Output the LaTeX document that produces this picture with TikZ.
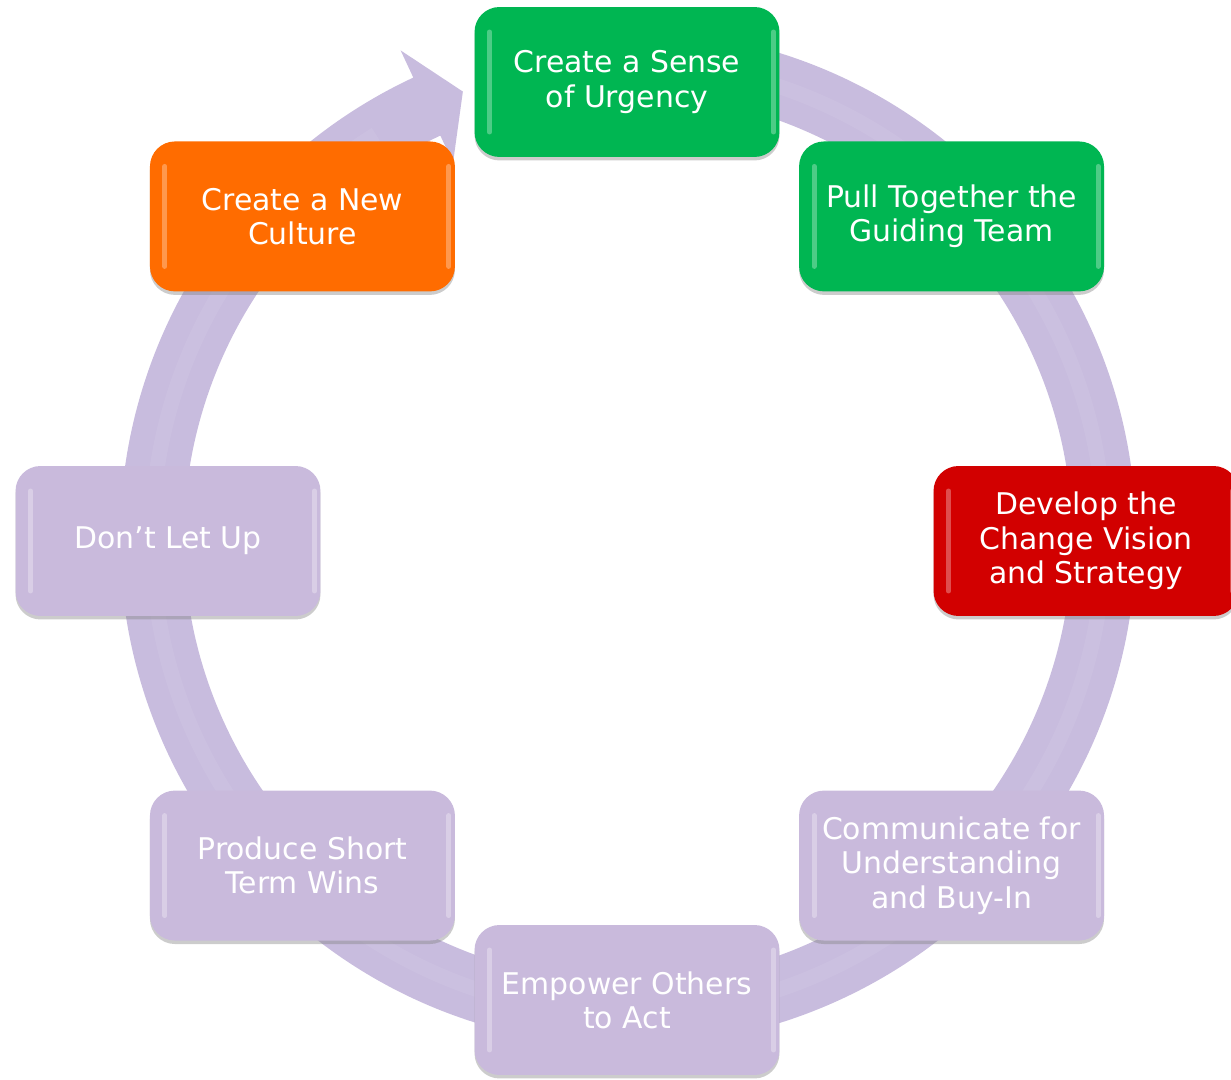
\documentclass[tikz,border=0pt]{standalone}
\usepackage{fontspec}
\setmainfont{DejaVu Sans}
\usetikzlibrary{shadows}
\definecolor{kgreen}{HTML}{00B652}
\definecolor{kred}{HTML}{D20000}
\definecolor{korange}{HTML}{FF6C00}
\definecolor{klilac}{HTML}{C9BADC}
\definecolor{kring}{HTML}{C8BCDE}

\begin{document}
\begin{tikzpicture}[x=0.02cm, y=0.02cm,
    stage/.style={rectangle, rounded corners=0.5cm, minimum width=6.1cm, minimum height=3cm,
      inner sep=0pt, fill=klilac, text=white, align=center,
      font=\fontsize{17}{19.5}\selectfont,
      drop shadow={opacity=0.4, shadow xshift=0pt, shadow yshift=-0.07cm},
      path picture={
        \draw[white, opacity=0.3, line width=0.1cm, line cap=round]
          ([xshift=0.3cm, yshift=-0.5cm]path picture bounding box.north west) --
          ([xshift=0.3cm, yshift=0.5cm]path picture bounding box.south west);
        \draw[white, opacity=0.3, line width=0.1cm, line cap=round]
          ([xshift=-0.12cm, yshift=-0.5cm]path picture bounding box.north east) --
          ([xshift=-0.12cm, yshift=0.5cm]path picture bounding box.south east);
      }}]
  \useasboundingbox (0,0) rectangle (1231,1079);
  \coordinate (hub) at (627,538);

  % circular arrow behind the boxes
  \begin{scope}[shift={(628,541)}]
    \fill[kring] (85:508) arc[start angle=85, end angle=-245, radius=508]
      -- (-245:538) -- (-249.7:476) -- (-245:414) -- (-245:444)
      arc[start angle=-245, end angle=85, radius=444] -- cycle;
    \draw[white, opacity=0.07, line width=0.3cm] (85:476) arc[start angle=85, end angle=-238, radius=476];
  \end{scope}

  % the eight stages
  \node[stage, fill=kgreen] (urgency) at ([shift={(90:459)}]hub) {Create a Sense\\of Urgency};
  \node[stage, fill=kgreen] (team) at ([shift={(45:459)}]hub) {Pull Together the\\Guiding Team};
  \node[stage, fill=kred] (vision) at ([shift={(0:459)}]hub) {Develop the\\Change Vision\\and Strategy};
  \node[stage] (communicate) at ([shift={(-45:459)}]hub) {Communicate for\\Understanding\\and Buy-In};
  \node[stage] (empower) at ([shift={(-90:459)}]hub) {Empower Others\\to Act};
  \node[stage] (wins) at ([shift={(-135:459)}]hub) {Produce Short\\Term Wins};
  \node[stage] (letup) at ([shift={(180:459)}]hub) {Don’t Let Up};
  \node[stage, fill=korange] (culture) at ([shift={(135:459)}]hub) {Create a New\\Culture};
\end{tikzpicture}
\end{document}
